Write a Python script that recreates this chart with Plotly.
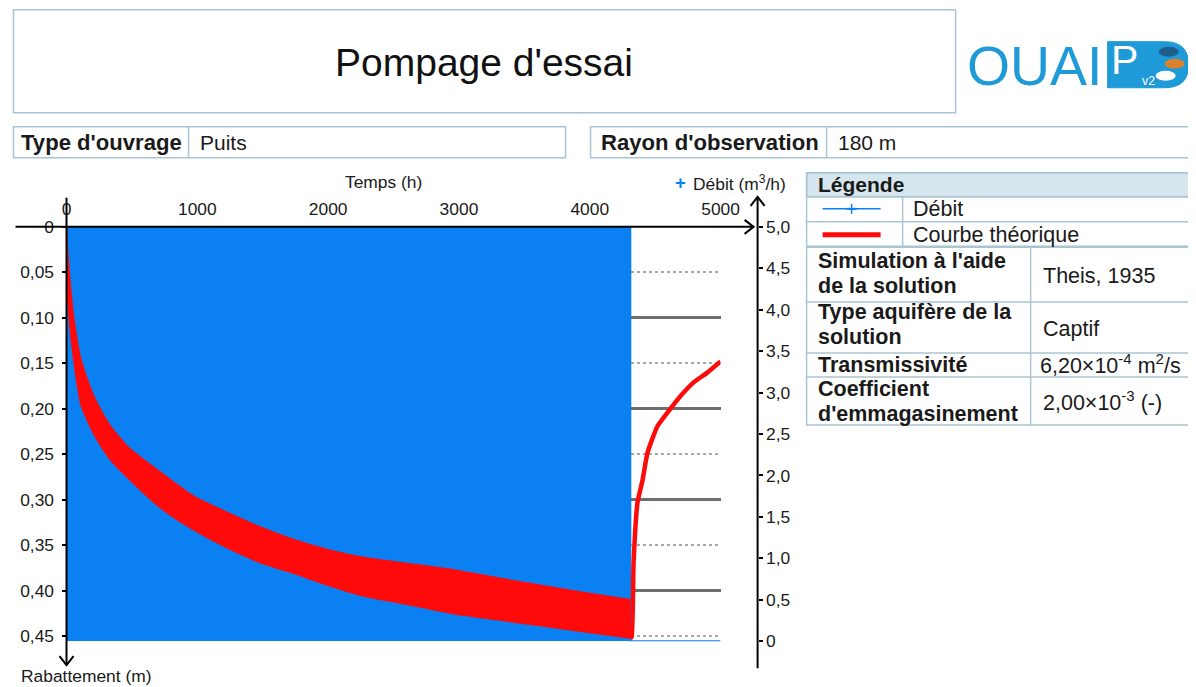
import plotly.graph_objects as go

# ---------------- data ----------------
x_tick_vals = [0, 1000, 2000, 3000, 4000, 5000]
x_tick_text = ["0", "1000", "2000", "3000", "4000", "5000"]
s_tick_vals = [0, 0.05, 0.10, 0.15, 0.20, 0.25, 0.30, 0.35, 0.40, 0.45]
s_tick_text = ["0", "0,05", "0,10", "0,15", "0,20", "0,25", "0,30", "0,35", "0,40", "0,45"]
q_tick_vals = [0, 0.5, 1.0, 1.5, 2.0, 2.5, 3.0, 3.5, 4.0, 4.5, 5.0]
q_tick_text = ["0", "0,5", "1,0", "1,5", "2,0", "2,5", "3,0", "3,5", "4,0", "4,5", "5,0"]

# Débit (m3/h) - pumping then stop
debit_t = [0, 4310, 4310, 5000]
debit_q = [5, 5, 0, 0]

# Courbe théorique - envelope of the oscillating drawdown during pumping (m)
env_t = [0, 5, 20, 55, 110, 210, 330, 470, 720, 970, 1230, 1480, 1740, 2000,
         2250, 2600, 2950, 3300, 3700, 4000, 4310]
env_upper = [0, 0.020, 0.050, 0.100, 0.146, 0.187, 0.218, 0.242, 0.270, 0.296,
             0.314, 0.330, 0.344, 0.355, 0.363, 0.370, 0.377, 0.386, 0.396, 0.403, 0.410]
env_lower = [0, 0.065, 0.100, 0.146, 0.195, 0.228, 0.255, 0.276, 0.309, 0.333,
             0.353, 0.369, 0.381, 0.394, 0.405, 0.415, 0.425, 0.432, 0.440, 0.446, 0.452]

# Courbe théorique - recovery after pumping stops (m)
rec_t = [4310, 4320, 4335, 4365, 4404, 4442, 4518, 4595, 4694, 4794, 4901, 5000]
rec_s = [0.452, 0.451, 0.369, 0.303, 0.278, 0.248, 0.219, 0.204, 0.186, 0.171, 0.160, 0.148]

# ---------------- style ----------------
# the page photograph maps figure pixels to picture pixels with a small
# offset/scale; compensate so that positions below are in picture pixels
SX, AX, SY, AY = 0.98, 12.5, 0.9705, 18.3
W, H = 1208, 694
FS = 1 / 0.975
FONT = "Liberation Sans, Arial, sans-serif"
BLUE = "#0b80f3"
RED = "#ff0a0a"
BORDER = "#a9c4d3"
TXT = "#1a1a1a"


def X(p):
    return ((p - AX) / SX) / W


def Y(p):
    return 1 - ((p - AY) / SY) / H


def F(n):
    return round(n * FS, 1)


fig = go.Figure()

fig.add_trace(go.Scatter(x=debit_t, y=debit_q, xaxis="x", yaxis="y", mode="lines",
                         fill="tozeroy", fillcolor=BLUE, line=dict(color=BLUE, width=2),
                         hoverinfo="skip", showlegend=False, name="Débit"))
fig.add_trace(go.Scatter(x=env_t, y=env_lower, xaxis="x", yaxis="y2", mode="lines",
                         line=dict(color=RED, width=1.5, shape="spline", smoothing=0.6),
                         hoverinfo="skip", showlegend=False))
fig.add_trace(go.Scatter(x=env_t, y=env_upper, xaxis="x", yaxis="y2", mode="lines",
                         fill="tonexty", fillcolor=RED,
                         line=dict(color=RED, width=1.5, shape="spline", smoothing=0.6),
                         hoverinfo="skip", showlegend=False, name="Courbe théorique"))
fig.add_trace(go.Scatter(x=rec_t, y=rec_s, xaxis="x", yaxis="y3", mode="lines",
                         line=dict(color=RED, width=4.5, shape="spline", smoothing=0.5),
                         hoverinfo="skip", showlegend=False))

dom_y = [Y(641), Y(227)]
s_range = [0.4555, 0]

fig.update_layout(
    width=W, height=H, autosize=False,
    margin=dict(l=0, r=0, t=0, b=0),
    paper_bgcolor="white", plot_bgcolor="rgba(0,0,0,0)",
    font=dict(family=FONT, color=TXT, size=F(17)),
    xaxis=dict(domain=[X(66), X(720)], range=[0, 5000], side="top", anchor="y",
               tickvals=x_tick_vals, ticktext=x_tick_text, ticks="",
               ticklabelstandoff=7, tickfont=dict(size=F(17)),
               showgrid=True, gridcolor="#808080", gridwidth=2,
               zeroline=False, showline=False),
    yaxis=dict(domain=dom_y, range=[0, 5], anchor="free", position=X(757), side="right",
               tickvals=q_tick_vals, ticktext=q_tick_text, ticks="outside", ticklen=4,
               tickwidth=1.5, tickcolor="black", tickfont=dict(size=F(17)),
               showgrid=False, zeroline=False, showline=False),
    yaxis2=dict(domain=dom_y, range=s_range, overlaying="y", anchor="x", side="left",
                tickvals=s_tick_vals, ticktext=s_tick_text, ticks="outside", ticklen=4,
                tickwidth=1.5, tickcolor="black", tickfont=dict(size=F(17)),
                ticklabelstandoff=4,
                showgrid=False, zeroline=False, showline=False),
    yaxis3=dict(domain=dom_y, range=s_range, overlaying="y", anchor="x", side="left",
                showticklabels=False, ticks="", tick0=0, dtick=0.1,
                showgrid=True, gridcolor="#6e6e6e", gridwidth=2.5,
                minor=dict(dtick=0.05, tick0=0, showgrid=True, gridcolor="#a8a8a8",
                           gridwidth=2, griddash="dot"),
                zeroline=False, showline=False),
)

shapes = []
annotations = []


def line(x0, y0, x1, y1, color="black", width=2):
    shapes.append(dict(type="line", xref="paper", yref="paper",
                       x0=X(x0), y0=Y(y0), x1=X(x1), y1=Y(y1),
                       line=dict(color=color, width=width)))


def rect(x0, y0, x1, y1, color=BORDER, width=1.5, fill=None):
    shapes.append(dict(type="rect", xref="paper", yref="paper",
                       x0=X(x0), y0=Y(y0), x1=X(x1), y1=Y(y1),
                       line=dict(color=color, width=width),
                       fillcolor=fill if fill else "rgba(0,0,0,0)", layer="below"))


def path(pts, color="black", width=2):
    d = "M " + " L ".join(f"{X(a):.5f},{Y(b):.5f}" for a, b in pts)
    shapes.append(dict(type="path", xref="paper", yref="paper", path=d,
                       line=dict(color=color, width=width)))


def text(x, y, s, size=17, bold=False, xanchor="left", color=TXT, family=FONT):
    if bold:
        s = f"<b>{s}</b>"
    annotations.append(dict(x=X(x), y=Y(y), xref="paper", yref="paper", text=s,
                            showarrow=False, xanchor=xanchor, yanchor="middle", align="left",
                            font=dict(size=F(size), color=color, family=family)))


# ---- Title box ----
rect(13, 10, 955, 113)
text(483, 63, "Pompage d'essai", size=38, xanchor="center", color="#111111")

# ---- Logo ----
text(1034, 66, "OUAI", size=54, xanchor="center", color="#1e9ad8")
shapes.append(dict(type="path", xref="paper", yref="paper",
                   path=(f"M {X(1107)},{Y(42)} L {X(1164)},{Y(42)} "
                         f"Q {X(1188)},{Y(42)} {X(1188)},{Y(65)} "
                         f"Q {X(1188)},{Y(88)} {X(1164)},{Y(88)} L {X(1107)},{Y(88)} Z"),
                   line=dict(color="#1e9ad8", width=1), fillcolor="#1e9ad8"))
text(1124, 60, "P", size=40, xanchor="center", color="white")
text(1139, 81, "v2", size=12, xanchor="left", color="white")
for cx, cy, col in [(1168, 52, "#1d5f8a"), (1174, 64, "#d9812e"), (1165, 76, "#ffffff")]:
    shapes.append(dict(type="circle", xref="paper", yref="paper",
                       x0=X(cx - 10), x1=X(cx + 10), y0=Y(cy - 5), y1=Y(cy + 5),
                       line=dict(color=col, width=0), fillcolor=col))

# ---- Info rows ----
rect(13, 127, 565, 158)
line(188, 127, 188, 158, color=BORDER, width=1.5)
text(18, 143, "Type d'ouvrage", size=21.5, bold=True)
text(197, 143, "Puits", size=20.5)

rect(590, 127, 1205, 158)
line(826, 127, 826, 158, color=BORDER, width=1.5)
text(598, 143, "Rayon d'observation", size=21.5, bold=True)
text(835, 143, "180 m", size=20.5)

# ---- Legend / parameters table ----
TL, TR = 806, 1205
rect(TL, 173, TR, 197, fill="#d6e6ee")
rows = [197, 222, 247, 302, 353, 377, 425]
rect(TL, 173, TR, 425)
for r in rows[:-1]:
    line(TL, r, TR, r, color=BORDER, width=1.5 if r != 247 else 2.5)
line(902, 197, 902, 247, color=BORDER, width=1.5)
line(1030, 247, 1030, 425, color=BORDER, width=1.5)

text(815, 185, "Légende", size=20.5, bold=True)
line(822, 209, 880, 209, color=BLUE, width=1.5)
line(851, 204, 851, 214, color=BLUE, width=1.5)
line(846, 209, 856, 209, color=BLUE, width=2)
text(910, 209, "Débit", size=21)
line(822, 235, 880, 235, color=RED, width=5)
text(910, 235, "Courbe théorique", size=21)

text(815, 261, "Simulation à l'aide", size=21, bold=True)
text(815, 286, "de la solution", size=21, bold=True)
text(1040, 276, "Theis, 1935", size=21)
text(815, 312, "Type aquifère de la", size=21, bold=True)
text(815, 337, "solution", size=21, bold=True)
text(1040, 329, "Captif", size=21)
text(815, 365, "Transmissivité", size=21, bold=True)
text(1037, 364, "6,20×10<sup>-4</sup> m<sup>2</sup>/s", size=21)
text(815, 389, "Coefficient", size=21, bold=True)
text(815, 414, "d'emmagasinement", size=21, bold=True)
text(1040, 401, "2,00×10<sup>-3</sup> (-)", size=21)

# ---- Chart axes (arrows) ----
line(15, 227, 752, 227, width=2)
path([(744, 220), (753, 227), (744, 234)], width=2)
line(66, 198, 66, 664, width=2)
path([(59, 656), (66, 665), (73, 656)], width=2)
line(757, 668, 757, 198, width=2)
path([(750, 206), (757, 197), (764, 206)], width=2)

text(383, 182, "Temps (h)", size=17, xanchor="center")
text(680, 183, "+", size=18, xanchor="center", color=BLUE, bold=True)
text(690, 183, "Débit (m<sup>3</sup>/h)", size=17)
text(18, 676, "Rabattement (m)", size=17)

fig.update_layout(shapes=shapes, annotations=annotations)

fig.write_html("out.html")
